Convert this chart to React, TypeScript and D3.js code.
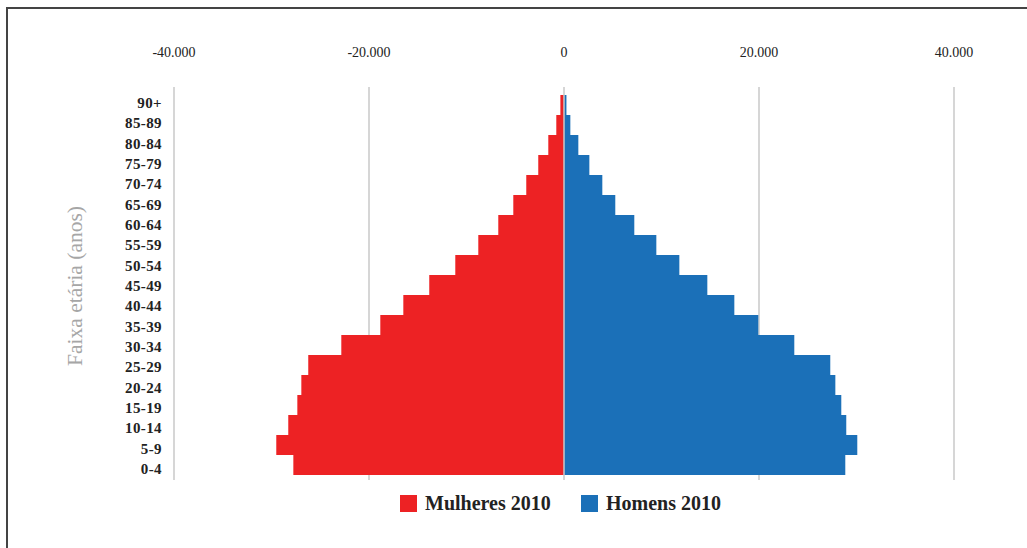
import React from "react";
import * as d3 from "d3";

const categories = ["90+", "85-89", "80-84", "75-79", "70-74", "65-69", "60-64", "55-59", "50-54", "45-49", "40-44", "35-39", "30-34", "25-29", "20-24", "15-19", "10-14", "5-9", "0-4"];
const mulheres2010 = [370, 790, 1610, 2640, 3870, 5200, 6740, 8790, 11150, 13820, 16480, 18840, 22840, 26230, 26940, 27350, 28280, 29510, 27760];
const homens2010 = [250, 650, 1470, 2600, 3930, 5260, 7210, 9470, 11830, 14700, 17470, 19930, 23620, 27310, 27830, 28440, 28950, 30080, 28850];
const xTicks = [-40000, -20000, 0, 20000, 40000];
const seriesNames = ["Mulheres 2010", "Homens 2010"];

const W = 1027;
const H = 548;
const RED = "#ED2224";
const BLUE = "#1B70B8";
const FONT = "'Liberation Serif', 'Times New Roman', serif";

export default function App() {
  const x = d3.scaleLinear().domain([-40000, 40000]).range([174, 954]);
  const y = d3.scaleBand().domain(categories).range([95, 475]).padding(0);
  const yLabel = d3.scalePoint().domain(categories).range([103, 469]);
  const fmt = (v: number) => d3.format(",")(Math.abs(v)).replace(/,/g, ".");
  const tickText = (v: number) => (v < 0 ? "-" : "") + fmt(v);

  return (
    <svg width={W} height={H} style={{ position: "absolute", left: 0, top: 0, background: "#fff" }}>
      <rect x={7} y={8} width={W + 20} height={H + 20} fill="#fff" stroke="#444" strokeWidth={2} />
      {xTicks.map((t) => (
        <g key={t}>
          {t !== 0 && <line x1={x(t)} x2={x(t)} y1={87} y2={480} stroke="#c8c8c8" strokeWidth={1.5} />}
          <text x={x(t)} y={57} textAnchor="middle" fontFamily={FONT} fontSize={14} fill="#222">
            {tickText(t)}
          </text>
        </g>
      ))}
      {categories.map((c, i) => (
        <g key={c}>
          <rect x={x(-mulheres2010[i])} y={y(c)!} width={x(0) - x(-mulheres2010[i])} height={y.bandwidth()} fill={RED} />
          <rect x={x(0)} y={y(c)!} width={x(homens2010[i]) - x(0)} height={y.bandwidth()} fill={BLUE} />
          <text x={162} y={yLabel(c)! + 5} textAnchor="end" fontFamily={FONT} fontSize={15} fontWeight="bold" letterSpacing={0.4} fill="#222">
            {c}
          </text>
        </g>
      ))}
      <line x1={x(0)} x2={x(0)} y1={87} y2={480} stroke="#c8c8c8" strokeWidth={1.5} />
      <text transform={`translate(82,286) rotate(-90)`} textAnchor="middle" fontFamily={FONT} fontSize={21.5} fill="#a6a6a6">
        Faixa etária (anos)
      </text>
      <rect x={400} y={495} width={17} height={17} fill={RED} />
      <text x={425} y={510} fontFamily={FONT} fontSize={20} fontWeight="bold" fill="#222">
        {seriesNames[0]}
      </text>
      <rect x={581} y={495} width={17} height={17} fill={BLUE} />
      <text x={606} y={510} fontFamily={FONT} fontSize={20} fontWeight="bold" fill="#222">
        {seriesNames[1]}
      </text>
    </svg>
  );
}
